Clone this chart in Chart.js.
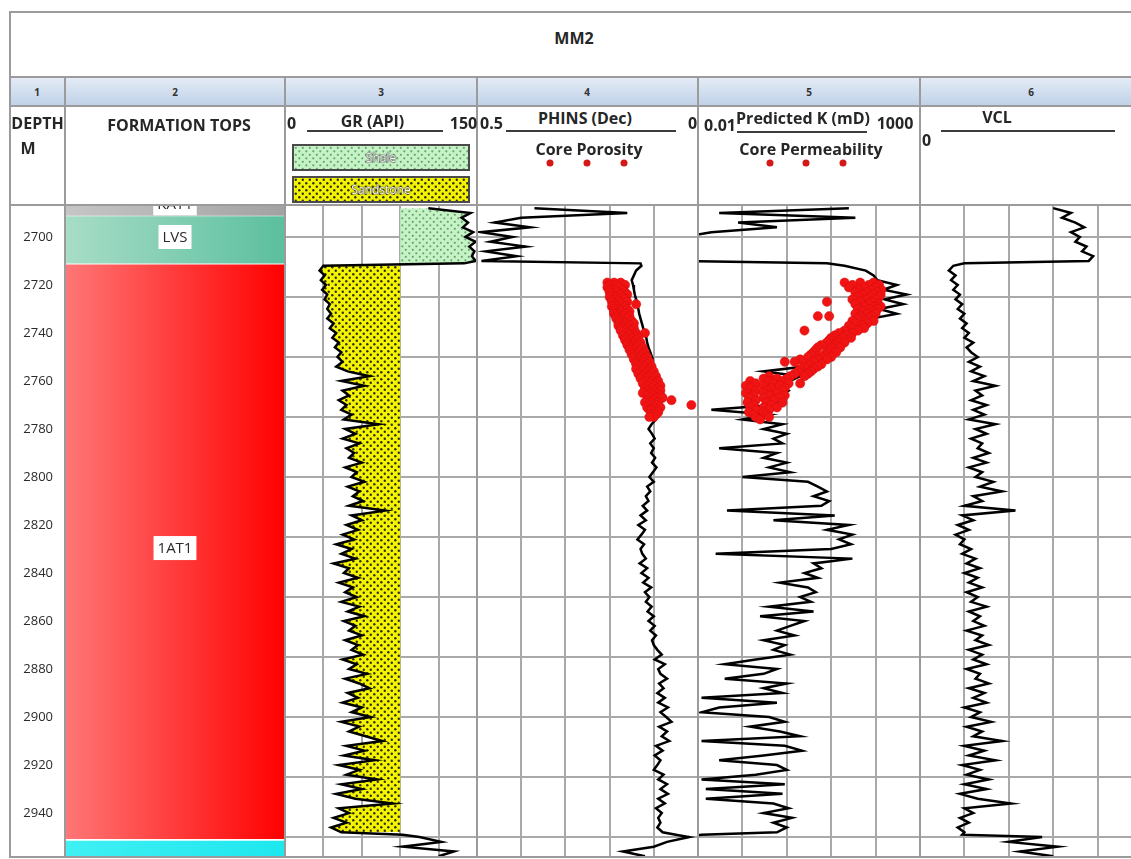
<!DOCTYPE html>
<html>
<head>
<meta charset="utf-8">
<title>MM2</title>
<script src="https://cdn.jsdelivr.net/npm/chart.js@4.4.1/dist/chart.umd.min.js"></script>
<style>
  html, body { margin: 0; padding: 0; }
  body { width: 1131px; height: 859px; overflow: hidden; background: #fff; position: relative; font-family: "Open Sans", sans-serif; }
  canvas { position: absolute; }
  .ln { position: absolute; background: #9b9b9b; }
  .t { position: absolute; transform: translate(-50%, -50%); white-space: nowrap; font-weight: bold; font-size: 16px; line-height: 1; color: #262626; }
  .n { font-size: 10px; color: #333; }
  .bar { position: absolute; height: 2px; background: #3c3c3c; }
  .dot { position: absolute; width: 7px; height: 7px; border-radius: 50%; background: #d41818; transform: translate(-50%, -50%); }
  .leg { position: absolute; left: 292px; width: 178px; height: 27px; box-sizing: border-box; border: 2px solid #4a4a4a; }
  .leg span { position: absolute; left: 0; right: 0; top: 50%; transform: translateY(-50%); text-align: center; font-size: 12px; color: #f2f2f2; line-height: 1; text-shadow: 0 0 1px #444, 0 0 1px #444, 0 0 2px #555; }
  #numrow { position: absolute; left: 11px; top: 78px; width: 1131px; height: 28px; background: linear-gradient(#e3ebf6, #bfd1e8); }
</style>
</head>
<body>
<div id="numrow"></div>

<canvas id="tops" width="275" height="651" style="left:10px;top:206px"></canvas>
<canvas id="gr" width="192" height="651" style="left:285px;top:206px"></canvas>
<canvas id="phi" width="221" height="651" style="left:477px;top:206px"></canvas>
<canvas id="perm" width="222" height="651" style="left:698px;top:206px"></canvas>
<canvas id="vcl" width="222" height="651" style="left:920px;top:206px"></canvas>

<!-- cadre du tableau -->
<div class="ln" style="left:10px;top:11px;width:1132px;height:2px"></div>
<div class="ln" style="left:10px;top:76px;width:1132px;height:2px"></div>
<div class="ln" style="left:10px;top:105px;width:1132px;height:2px"></div>
<div class="ln" style="left:10px;top:204px;width:1132px;height:2px"></div>
<div class="ln" style="left:10px;top:856px;width:1132px;height:2px"></div>
<div class="ln" style="left:9px;top:11px;width:2px;height:847px"></div>
<div class="ln" style="left:64px;top:77px;width:2px;height:781px"></div>
<div class="ln" style="left:284px;top:77px;width:2px;height:781px"></div>
<div class="ln" style="left:476px;top:77px;width:2px;height:781px"></div>
<div class="ln" style="left:697px;top:77px;width:2px;height:781px"></div>
<div class="ln" style="left:919px;top:77px;width:2px;height:781px"></div>

<!-- titre -->
<div class="t" style="left:574px;top:38px">MM2</div>

<!-- numéros de colonnes -->
<div class="t n" style="left:37px;top:92px">1</div>
<div class="t n" style="left:175px;top:92px">2</div>
<div class="t n" style="left:381px;top:92px">3</div>
<div class="t n" style="left:587px;top:92px">4</div>
<div class="t n" style="left:809px;top:92px">5</div>
<div class="t n" style="left:1031px;top:92px">6</div>

<!-- en-têtes des pistes -->
<div class="t" style="left:37.5px;top:123px">DEPTH</div>
<div class="t" style="left:28px;top:148px">M</div>
<div class="t" style="left:179px;top:125px">FORMATION TOPS</div>

<div class="t" style="left:291.5px;top:123px">0</div>
<div class="t" style="left:372.5px;top:121px">GR (API)</div>
<div class="t" style="left:463.5px;top:123px">150</div>
<div class="bar" style="left:307px;top:130px;width:136px"></div>
<div class="leg" id="legShale" style="top:144px"><span>Shale</span></div>
<div class="leg" id="legSand" style="top:176px"><span>Sandstone</span></div>

<div class="t" style="left:491.5px;top:123px">0.5</div>
<div class="t" style="left:585px;top:117.5px">PHINS (Dec)</div>
<div class="t" style="left:692.5px;top:123px">0</div>
<div class="bar" style="left:506px;top:130px;width:170px"></div>
<div class="t" style="left:589px;top:149px">Core Porosity</div>
<div class="dot" style="left:550px;top:163px"></div>
<div class="dot" style="left:587px;top:163px"></div>
<div class="dot" style="left:624px;top:163px"></div>

<div class="t" style="left:720px;top:125px">0.01</div>
<div class="t" style="left:803px;top:117.5px">Predicted K (mD)</div>
<div class="t" style="left:895px;top:123px">1000</div>
<div class="bar" style="left:737px;top:131px;width:130px"></div>
<div class="t" style="left:811px;top:149px">Core Permeability</div>
<div class="dot" style="left:770px;top:163px"></div>
<div class="dot" style="left:806px;top:163px"></div>
<div class="dot" style="left:843px;top:163px"></div>

<div class="t" style="left:926.5px;top:140px">0</div>
<div class="t" style="left:997px;top:117px">VCL</div>
<div class="bar" style="left:941px;top:130px;width:174px"></div>

<script>
// Profondeurs (m) communes à toutes les diagraphies
const DEPTH = [
  2688, 2690, 2692, 2694, 2696, 2698, 2700, 2702, 2704, 2706, 2708, 2710, 2711,
  2712, 2714, 2716, 2718, 2720, 2722, 2724, 2726, 2728, 2730,
  2732, 2734, 2736, 2738, 2740, 2742, 2744, 2746, 2748, 2750,
  2752, 2754, 2756, 2758, 2760, 2762, 2764, 2766, 2768, 2770,
  2772, 2774, 2776, 2778, 2780, 2782, 2784, 2786, 2788, 2790,
  2792, 2794, 2796, 2798, 2800, 2802, 2804, 2806, 2808, 2810,
  2812, 2814, 2816, 2818, 2820, 2822, 2824, 2826, 2828, 2830,
  2832, 2834, 2836, 2838, 2840, 2842, 2844, 2846, 2848, 2850,
  2852, 2854, 2856, 2858, 2860, 2862, 2864, 2866, 2868, 2870,
  2872, 2874, 2876, 2878, 2880, 2882, 2884, 2886, 2888, 2890,
  2892, 2894, 2896, 2898, 2900, 2902, 2904, 2906, 2908, 2910,
  2912, 2914, 2916, 2918, 2920, 2922, 2924, 2926, 2928, 2930,
  2932, 2934, 2936, 2938, 2940, 2942, 2944, 2946, 2948,
  2949, 2950, 2952, 2954, 2956, 2958
];

// Gamma ray (API)
const GR = [
  112, 145, 138, 143, 139, 147, 141, 149, 144, 148, 146, 149, 140,
  30, 27, 31, 28, 32, 29, 33, 31, 35, 33,
  36, 33, 38, 35, 40, 37, 42, 39, 44, 41,
  45, 40, 49, 66, 44, 62, 45, 50, 42, 48,
  44, 52, 46, 73, 47, 55, 45, 58, 48, 54,
  50, 60, 47, 56, 52, 62, 49, 58, 53, 61,
  50, 78, 52, 60, 48, 57, 45, 54, 40, 52,
  44, 55, 38, 50, 46, 57, 42, 53, 47, 56,
  44, 58, 49, 62, 46, 55, 50, 60, 47, 57,
  52, 61, 45, 56, 50, 64, 47, 58, 66, 49,
  57, 45, 60, 52, 67, 44, 58, 50, 63, 76,
  48, 62, 46, 70, 42, 58, 48, 72, 44, 60,
  40, 55, 84, 42, 50, 38, 48, 36, 44,
  92, 105, 122, 92, 132, 120
];

// Porosité PHINS (fraction)
const PHINS = [
  0.37, 0.16, 0.40, 0.46, 0.38, 0.49, 0.42, 0.47, 0.39, 0.48, 0.41, 0.49, 0.13,
  0.128, 0.14, 0.145, 0.15, 0.147, 0.145, 0.143, 0.14, 0.137, 0.135,
  0.133, 0.13, 0.127, 0.124, 0.12, 0.117, 0.115, 0.112, 0.108, 0.104,
  0.103, 0.1, 0.099, 0.098, 0.097, 0.095, 0.093, 0.092, 0.09, 0.09,
  0.09, 0.092, 0.095, 0.105, 0.112, 0.104, 0.098, 0.108, 0.1, 0.106,
  0.097, 0.104, 0.094, 0.102, 0.11, 0.1, 0.115, 0.108, 0.118, 0.112,
  0.125, 0.115, 0.13, 0.118, 0.135, 0.12, 0.128, 0.137, 0.122, 0.13,
  0.126, 0.118, 0.132, 0.115, 0.128, 0.112, 0.124, 0.106, 0.12, 0.11,
  0.118, 0.105, 0.114, 0.1, 0.112, 0.098, 0.108, 0.095, 0.104, 0.1,
  0.092, 0.082, 0.098, 0.075, 0.09, 0.085, 0.07, 0.088, 0.078, 0.092,
  0.075, 0.09, 0.068, 0.085, 0.072, 0.06, 0.088, 0.07, 0.082, 0.065,
  0.095, 0.08, 0.098, 0.085, 0.092, 0.1, 0.078, 0.09, 0.07, 0.085,
  0.068, 0.09, 0.075, 0.095, 0.082, 0.09, 0.085, 0.092, 0.08,
  0.05, 0.02, 0.07, 0.1, 0.17, 0.12
];

// Perméabilité prédite (mD)
const PERM = [
  25, 0.03, 35, 0.08, 0.6, 0.02, 0.005, 0.005, 0.005, 0.005, 0.005, 0.005, 8,
  20, 60, 90, 110, 300, 150, 500, 160, 420, 120,
  300, 80, 45, 30, 25, 15, 12, 9, 8, 5,
  4, 2.5, 0.3, 2, 1.2, 0.8, 1.1, 0.7, 0.9, 0.5,
  0.02, 0.4, 0.1, 0.8, 0.3, 1.0, 0.5, 0.8, 0.03, 0.6,
  0.3, 1.0, 0.4, 1.2, 0.1, 3, 5, 8, 4, 9,
  6, 0.045, 12, 0.5, 25, 8, 30, 15, 28, 10,
  0.025, 30, 4, 6, 2.5, 5, 0.7, 3, 4.5, 2,
  3.5, 0.4, 4, 0.25, 2.5, 1.2, 0.6, 1.5, 0.3, 0.9,
  0.5, 1.2, 0.2, 0.04, 0.6, 0.3, 0.04, 1.0, 0.3, 0.8,
  0.012, 0.6, 0.03, 0.012, 0.4, 0.9, 0.15, 0.7, 2, 0.012,
  0.9, 2.2, 0.3, 0.03, 0.6, 1.0, 0.2, 0.012, 0.9, 0.015,
  0.8, 0.015, 0.5, 1.1, 0.3, 1.3, 0.5, 1.0, 0.6,
  0.012, 0.005, 0.005, 0.005, 0.005, 0.005
];

// Volume d'argile (fraction)
const VCL = [
  0.6, 0.68, 0.64, 0.7, 0.74, 0.68, 0.72, 0.7, 0.75, 0.73, 0.78, 0.76, 0.2,
  0.15, 0.13, 0.16, 0.14, 0.17, 0.15, 0.18, 0.16, 0.19, 0.17,
  0.2, 0.18, 0.21, 0.19, 0.22, 0.2, 0.24, 0.21, 0.23, 0.26,
  0.22, 0.27, 0.23, 0.29, 0.24, 0.34, 0.25, 0.28, 0.23, 0.3,
  0.24, 0.29, 0.22, 0.34, 0.25, 0.3, 0.23, 0.28, 0.26, 0.31,
  0.24, 0.3, 0.22, 0.28, 0.25, 0.33, 0.27, 0.37, 0.24, 0.28,
  0.2, 0.43, 0.19, 0.24, 0.17, 0.22, 0.16, 0.2, 0.18, 0.23,
  0.19, 0.25, 0.21, 0.27, 0.2, 0.26, 0.22, 0.28, 0.21, 0.26,
  0.23, 0.3, 0.22, 0.27, 0.24, 0.29, 0.21, 0.28, 0.25, 0.31,
  0.22, 0.28, 0.24, 0.3, 0.21, 0.27, 0.25, 0.31, 0.22, 0.29,
  0.24, 0.3, 0.2, 0.27, 0.23, 0.32, 0.21, 0.28, 0.24, 0.37,
  0.2, 0.29, 0.22, 0.34, 0.19, 0.27, 0.21, 0.31, 0.2, 0.3,
  0.18, 0.26, 0.41, 0.2, 0.24, 0.18, 0.22, 0.17, 0.2,
  0.19, 0.55, 0.4, 0.62, 0.45, 0.6
];

// Carottes : [profondeur, porosité]
const CORE_POROSITY = [
  [2719, 0.205], [2719, 0.19], [2719, 0.175], [2720, 0.2], [2720, 0.185], [2720, 0.165],
  [2721, 0.195], [2721, 0.178], [2721, 0.205], [2722, 0.19], [2722, 0.17], [2722, 0.2],
  [2723, 0.185], [2723, 0.2], [2723, 0.165], [2724, 0.195], [2724, 0.175], [2724, 0.16],
  [2725, 0.19], [2725, 0.17], [2725, 0.2], [2726, 0.185], [2726, 0.165], [2726, 0.195],
  [2727, 0.18], [2727, 0.195], [2727, 0.16], [2728, 0.175], [2728, 0.19], [2728, 0.14],
  [2729, 0.185], [2729, 0.165], [2729, 0.195], [2730, 0.18], [2730, 0.16], [2730, 0.19],
  [2731, 0.175], [2731, 0.19], [2731, 0.155], [2732, 0.18], [2732, 0.165], [2732, 0.19],
  [2733, 0.17], [2733, 0.185], [2733, 0.155], [2734, 0.175], [2734, 0.16], [2734, 0.185],
  [2735, 0.17], [2735, 0.15], [2735, 0.18], [2736, 0.165], [2736, 0.18], [2736, 0.145],
  [2737, 0.17], [2737, 0.155], [2737, 0.18], [2738, 0.16], [2738, 0.175], [2738, 0.145],
  [2739, 0.165], [2739, 0.15], [2739, 0.175], [2740, 0.16], [2740, 0.14], [2740, 0.12],
  [2741, 0.155], [2741, 0.17], [2741, 0.14], [2742, 0.15], [2742, 0.165], [2742, 0.135],
  [2743, 0.155], [2743, 0.14], [2743, 0.165], [2744, 0.145], [2744, 0.16], [2744, 0.13],
  [2745, 0.15], [2745, 0.135], [2745, 0.16], [2746, 0.14], [2746, 0.155], [2746, 0.125],
  [2747, 0.145], [2747, 0.13], [2747, 0.155], [2748, 0.135], [2748, 0.15], [2748, 0.12],
  [2749, 0.14], [2749, 0.125], [2749, 0.15], [2750, 0.13], [2750, 0.145], [2750, 0.115],
  [2751, 0.135], [2751, 0.12], [2751, 0.145], [2752, 0.125], [2752, 0.14], [2752, 0.11],
  [2753, 0.13], [2753, 0.115], [2753, 0.14], [2754, 0.12], [2754, 0.135], [2754, 0.105],
  [2755, 0.125], [2755, 0.11], [2755, 0.14], [2756, 0.115], [2756, 0.13], [2756, 0.1],
  [2757, 0.12], [2757, 0.105], [2757, 0.135], [2758, 0.11], [2758, 0.125], [2758, 0.095],
  [2759, 0.115], [2759, 0.1], [2759, 0.13], [2760, 0.105], [2760, 0.12], [2760, 0.09],
  [2761, 0.11], [2761, 0.095], [2761, 0.125], [2762, 0.1], [2762, 0.115], [2762, 0.085],
  [2763, 0.105], [2763, 0.09], [2763, 0.12], [2764, 0.1], [2764, 0.115], [2764, 0.085],
  [2765, 0.095], [2765, 0.11], [2765, 0.125], [2766, 0.1], [2766, 0.085], [2766, 0.115],
  [2767, 0.095], [2767, 0.11], [2767, 0.08], [2768, 0.1], [2768, 0.06], [2768, 0.115],
  [2769, 0.09], [2769, 0.105], [2769, 0.12], [2770, 0.095], [2770, 0.015], [2770, 0.11],
  [2771, 0.1], [2771, 0.085], [2771, 0.115], [2772, 0.095], [2772, 0.11], [2772, 0.105],
  [2773, 0.1], [2773, 0.09], [2774, 0.105], [2774, 0.095], [2775, 0.1], [2775, 0.11]
];

// Carottes : [profondeur, perméabilité mD]
const CORE_PERM = [
  [2719, 20], [2719, 45], [2719, 90], [2720, 30], [2720, 70], [2720, 120],
  [2721, 25], [2721, 55], [2721, 100], [2722, 40], [2722, 80], [2722, 135],
  [2723, 35], [2723, 65], [2723, 110], [2724, 50], [2724, 90], [2724, 130],
  [2725, 40], [2725, 75], [2725, 120], [2726, 30], [2726, 60], [2726, 100],
  [2727, 45], [2727, 85], [2727, 8], [2728, 35], [2728, 70], [2728, 115],
  [2729, 55], [2729, 95], [2729, 130], [2730, 40], [2730, 75], [2730, 110],
  [2731, 50], [2731, 90], [2732, 35], [2732, 65], [2732, 100], [2733, 5],
  [2733, 9], [2733, 45], [2733, 80], [2734, 40], [2734, 70], [2735, 30],
  [2735, 60], [2735, 90], [2736, 35], [2736, 65], [2737, 25], [2737, 50],
  [2738, 30], [2738, 55], [2739, 2.5], [2739, 20], [2739, 40], [2740, 15],
  [2740, 30], [2741, 12], [2741, 22], [2742, 10], [2742, 18], [2742, 28],
  [2743, 9], [2743, 15], [2744, 8], [2744, 14], [2744, 20], [2745, 6],
  [2745, 12], [2746, 5], [2746, 10], [2746, 16], [2747, 4.5], [2747, 9],
  [2748, 4], [2748, 8], [2748, 13], [2749, 3.5], [2749, 7], [2750, 3],
  [2750, 6], [2750, 10], [2751, 2], [2751, 5], [2751, 8], [2752, 0.9],
  [2752, 1.5], [2752, 4], [2753, 3], [2753, 6], [2754, 2.5], [2754, 5],
  [2755, 2], [2755, 4], [2756, 1.8], [2756, 3.5], [2757, 1.5], [2757, 3],
  [2758, 0.4], [2758, 1.2], [2758, 2.5], [2759, 0.3], [2759, 0.6], [2759, 1],
  [2760, 0.15], [2760, 0.4], [2760, 0.8], [2761, 0.2], [2761, 0.5], [2761, 1.1],
  [2761, 2], [2762, 0.12], [2762, 0.3], [2762, 0.7], [2763, 0.15], [2763, 0.45],
  [2763, 0.9], [2764, 0.2], [2764, 0.35], [2764, 0.8], [2765, 0.12], [2765, 0.3],
  [2765, 0.6], [2766, 0.18], [2766, 0.4], [2766, 0.9], [2767, 0.14], [2767, 0.3],
  [2767, 0.7], [2768, 0.2], [2768, 0.5], [2769, 0.13], [2769, 0.35], [2769, 0.8],
  [2770, 0.18], [2770, 0.45], [2771, 0.15], [2771, 0.3], [2771, 0.6], [2772, 0.2],
  [2772, 0.4], [2773, 0.14], [2773, 0.3], [2774, 0.18], [2774, 0.35], [2775, 0.2],
  [2775, 0.4], [2776, 0.25]
];

// Toits de formations
const FORMATIONS = ['KAT1', 'LVS', '1AT1', ''];
const FORMATION_TOP = [2687.1, 2691.5, 2711.6, 2951.7];
const FORMATION_BASE = [2691.0, 2710.9, 2950.7, 2958.3];
const FORMATION_LABEL_DEPTH = [2686, 2700, 2829.6, null];

// Limites shale / sandstone et seuil GR
const SHALE_BASE = 2711;
const SAND_TOP = 2712;
const SAND_BASE = 2948;
const GR_CUTOFF = 90;

// Échelles
const DEPTH_TOP = 2687.1;
const DEPTH_BOTTOM = 2958.3;
const DEPTH_LABELS = [2700, 2720, 2740, 2760, 2780, 2800, 2820, 2840, 2860, 2880, 2900, 2920, 2940];
const GRID_DEPTHS = [2700, 2725, 2750, 2775, 2800, 2825, 2850, 2875, 2900, 2925, 2950];
const GR_TICKS = [0, 30, 60, 90, 120, 150];
const PHI_TICKS = [0, 0.1, 0.2, 0.3, 0.4, 0.5];
const PERM_TICKS = [0.01, 0.1, 1, 10, 100, 1000];
const VCL_TICKS = [0, 0.2, 0.4, 0.6, 0.8, 1];

// Styles
const GRID = '#a9a9a9';
const CORE_RED = '#f01414';
const FORMATION_COLORS = [['#c6c6c6', '#a2a2a2'], ['#a8ddc7', '#5bbf9e'], ['#ff7777', '#ff0000'], ['#3ff0f3', '#1ee7ee']];

Chart.defaults.font.family = '"Open Sans", sans-serif';

// Motif pointillé pour le remplissage lithologique
function dotTile(bg, dot, r) {
  const c = document.createElement('canvas');
  c.width = 7; c.height = 7;
  const g = c.getContext('2d');
  g.fillStyle = bg;
  g.fillRect(0, 0, 7, 7);
  g.fillStyle = dot;
  [[1.8, 1.8], [5.3, 5.3]].forEach(([x, y]) => {
    g.beginPath(); g.arc(x, y, r, 0, Math.PI * 2); g.fill();
  });
  return c;
}
const shaleTile = dotTile('#c4f3c4', '#6f9f78', 1.1);
const sandTile = dotTile('#f4f400', '#2e2e10', 1.2);
const shalePattern = shaleTile.getContext('2d').createPattern(shaleTile, 'repeat');
const sandPattern = sandTile.getContext('2d').createPattern(sandTile, 'repeat');
document.getElementById('legShale').style.backgroundImage = 'url(' + shaleTile.toDataURL() + ')';
document.getElementById('legSand').style.backgroundImage = 'url(' + sandTile.toDataURL() + ')';

function fixedTicks(list) {
  return scale => { scale.ticks = list.map(v => ({ value: v })); };
}

function depthScale() {
  return {
    type: 'linear', reverse: true, min: DEPTH_TOP, max: DEPTH_BOTTOM,
    border: { display: false },
    ticks: { display: false },
    grid: { color: GRID, lineWidth: 2, drawTicks: false },
    afterBuildTicks: fixedTicks(GRID_DEPTHS)
  };
}

function valueScale(extra, ticks) {
  return Object.assign({
    border: { display: false },
    ticks: { display: false },
    grid: { color: GRID, lineWidth: 2, drawTicks: false },
    afterBuildTicks: fixedTicks(ticks)
  }, extra);
}

function curve(values) {
  return DEPTH.map((d, i) => ({ x: values[i], y: d }));
}

function logLine(values) {
  return { data: curve(values), borderColor: '#000', borderWidth: 2.5, pointRadius: 0, fill: false };
}

function corePoints(list) {
  return {
    data: list.map(([d, v]) => ({ x: v, y: d })),
    showLine: false, pointRadius: 4.6, pointBackgroundColor: CORE_RED,
    pointBorderColor: '#d80d0d', pointBorderWidth: 0.5
  };
}

function makeTrack(id, xScale, datasets) {
  return new Chart(document.getElementById(id), {
    type: 'line',
    data: { datasets },
    options: {
      indexAxis: 'y',
      responsive: false,
      animation: false,
      layout: { padding: 0, autoPadding: false },
      elements: { line: { tension: 0 }, point: { radius: 0 } },
      plugins: { legend: { display: false }, tooltip: { enabled: false } },
      scales: { x: xScale, y: depthScale() }
    }
  });
}

// Piste 2 : toits de formations (+ profondeurs)
const topLabels = {
  id: 'topLabels',
  afterDatasetsDraw(chart) {
    const ctx = chart.ctx;
    const a = chart.chartArea;
    const y = chart.scales.y;
    ctx.save();
    ctx.beginPath();
    ctx.rect(a.left, a.top, a.right - a.left, a.bottom - a.top);
    ctx.clip();
    ctx.font = '15px "Open Sans"';
    ctx.textAlign = 'center';
    ctx.textBaseline = 'middle';
    FORMATIONS.forEach((name, i) => {
      if (!name) return;
      const cx = (a.left + a.right) / 2;
      const cy = y.getPixelForValue(FORMATION_LABEL_DEPTH[i]);
      const w = ctx.measureText(name).width + 8;
      ctx.fillStyle = '#fff';
      ctx.fillRect(cx - w / 2, cy - 12, w, 24);
      ctx.fillStyle = '#2b2b2b';
      ctx.fillText(name, cx, cy + 1);
    });
    ctx.restore();
  }
};

new Chart(document.getElementById('tops'), {
  type: 'bar',
  data: {
    labels: ['tops'],
    datasets: FORMATIONS.map((name, i) => ({
      label: name,
      data: [[FORMATION_TOP[i], FORMATION_BASE[i]]],
      backgroundColor: c => {
        const a = c.chart.chartArea;
        if (!a) return FORMATION_COLORS[i][1];
        const g = c.chart.ctx.createLinearGradient(a.left, 0, a.right, 0);
        g.addColorStop(0, FORMATION_COLORS[i][0]);
        g.addColorStop(1, FORMATION_COLORS[i][1]);
        return g;
      },
      borderWidth: 0,
      grouped: false,
      barPercentage: 1,
      categoryPercentage: 1
    }))
  },
  options: {
    responsive: false,
    animation: false,
    layout: { padding: 0, autoPadding: false },
    plugins: { legend: { display: false }, tooltip: { enabled: false } },
    scales: {
      x: { display: false },
      y: {
        type: 'linear', reverse: true, min: DEPTH_TOP, max: DEPTH_BOTTOM,
        border: { display: false },
        grid: { display: false, drawTicks: false },
        ticks: { color: '#2a2a2a', font: { size: 13 }, padding: 12, callback: v => String(v) },
        afterBuildTicks: fixedTicks(DEPTH_LABELS),
        afterFit: s => { s.width = 55; s.paddingTop = 0; s.paddingBottom = 0; }
      }
    }
  },
  plugins: [topLabels]
});

// Piste 3 : GR avec remplissage shale / sandstone
const grPts = curve(GR);
makeTrack('gr', valueScale({ type: 'linear', min: 0, max: 150 }, GR_TICKS), [
  logLine(GR),
  {
    data: grPts.filter(p => p.y <= SHALE_BASE),
    borderColor: 'transparent', borderWidth: 0, pointRadius: 0,
    fill: { value: GR_CUTOFF }, backgroundColor: shalePattern
  },
  {
    data: grPts.filter(p => p.y >= SAND_TOP && p.y <= SAND_BASE),
    borderColor: 'transparent', borderWidth: 0, pointRadius: 0,
    fill: { value: GR_CUTOFF }, backgroundColor: sandPattern
  }
]);

// Piste 4 : PHINS + porosité carotte
makeTrack('phi', valueScale({ type: 'linear', min: 0, max: 0.5, reverse: true }, PHI_TICKS), [
  corePoints(CORE_POROSITY),
  logLine(PHINS)
]);

// Piste 5 : perméabilité prédite + carotte
makeTrack('perm', valueScale({ type: 'logarithmic', min: 0.01, max: 1000 }, PERM_TICKS), [
  corePoints(CORE_PERM),
  logLine(PERM)
]);

// Piste 6 : VCL
makeTrack('vcl', valueScale({ type: 'linear', min: 0, max: 1 }, VCL_TICKS), [
  logLine(VCL)
]);
</script>
</body>
</html>
